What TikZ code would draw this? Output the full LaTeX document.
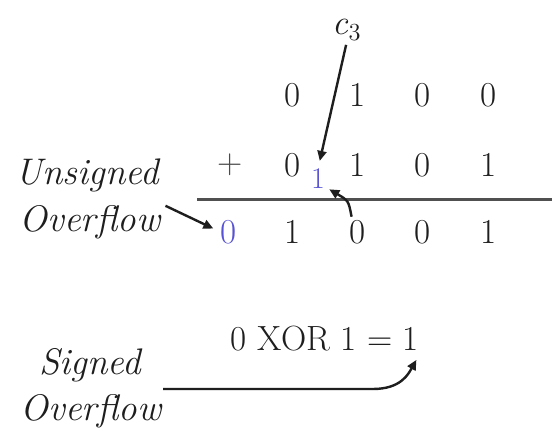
\documentclass[tikz,border=0pt]{standalone}
\usepackage{tikz}
\usetikzlibrary{arrows.meta,calc,positioning}
\definecolor{ink}{HTML}{1E1E1E}
\definecolor{carry}{HTML}{5852D4}
\definecolor{rule}{HTML}{505050}

\begin{document}
\begin{tikzpicture}[x=0.5pt,y=-0.5pt,font=\fontsize{17.5}{20}\selectfont,
  dig/.style={inner sep=0pt,color=ink},
  lab/.style={inner sep=0pt,color=ink,font=\fontsize{18.5}{21}\selectfont\itshape},
  arr/.style={-{Triangle[length=5pt,width=4.5pt]},line width=1.2pt,color=ink}]
  \useasboundingbox (0,0) rectangle (552,431);
  \fill[white] (0,0) rectangle (552,431);
  % operand rows and sum row, one column per bit
  \foreach \n/\x/\a/\b/\s in {3/293/0/0/1, 2/358/1/1/0, 1/423/0/0/0, 0/489/0/1/1} {
    \node[dig] (a\n) at (\x,95) {\a};
    \node[dig] (b\n) at (\x,165) {\b};
    \node[dig] (s\n) at (\x,232) {\s};
  }
  \node[dig,color=ink!80] (plus) at (230,165) {+};
  \node[dig,color=carry] (cout) at (229,232) {0};
  \node[dig,color=carry,font=\fontsize{15}{17}\selectfont] (cin) at (318,179) {1};
  \draw[rule,line width=1.5pt] (197,200) -- (552,200);
  % carry into the sign bit
  \node[dig] (c3) at (347,30) {\textit{c}\textsubscript{3}};
  \draw[arr,shorten <=2pt,shorten >=4pt] (c3.south) -- (cin.north);
  \draw[arr] ($(s2.north west)+(2,-3)$) .. controls +(-3,-16) .. ($(cin.south east)+(4,0)$);
  % unsigned overflow
  \node[lab] (uns) at (87,175) {Unsigned};
  \node[lab] (uov) at (90,222) {Overflow};
  \draw[arr,shorten >=4pt] ($(uov.north east)+(5,1)$) -- (cout.west);
  % signed overflow
  \node[dig] (xor) at (325,339) {0 XOR 1 = 1};
  \node[lab] (sg) at (90,365) {Signed};
  \node[lab] (sov) at (91,411) {Overflow};
  \coordinate (sgo) at (163,389);
  \draw[arr] (sgo) -- ++(210,0) .. controls +(28,0) and +(-8,14) .. ($(xor.south east)+(-3,8)$);
\end{tikzpicture}
\end{document}
